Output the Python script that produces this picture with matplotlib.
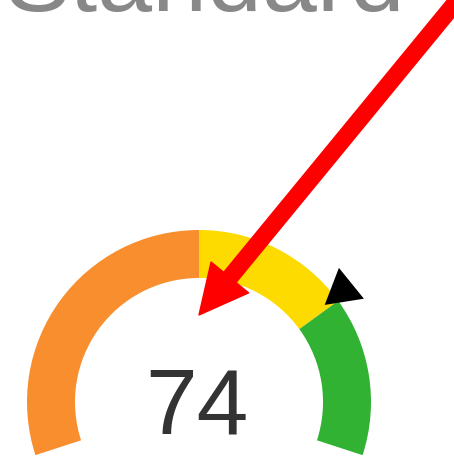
import matplotlib.pyplot as plt
import numpy as np
from matplotlib.patches import Wedge

# gauge data
title = "Standard"
value = 74
band_edges = [0, 50, 75, 100]
band_colors = ["#F98E2F", "#FDDA00", "#32B232"]

v_min, v_max = 0, 100
start_deg, span_deg = 198, 216


def to_angle(v):
    return start_deg - (v - v_min) / (v_max - v_min) * span_deg


fig = plt.figure(figsize=(4.54, 4.58), dpi=100)
ax = fig.add_axes([0, 0, 1, 1])
ax.set_xlim(0, 454)
ax.set_ylim(0, 458)
ax.set_aspect("equal")
ax.axis("off")

cx, cy = 199, 56
r_out, ring = 172, 48

for lo, hi, col in zip(band_edges[:-1], band_edges[1:], band_colors):
    ax.add_patch(Wedge((cx, cy), r_out, to_angle(hi), to_angle(lo),
                       width=ring, facecolor=col, edgecolor="none"))

# pointer just outside the ring
a = np.deg2rad(to_angle(value))
ax.plot(cx + 182 * np.cos(a), cy + 182 * np.sin(a), marker=(3, 0, 9),
        markersize=29, color="black", markeredgewidth=2,
        markeredgecolor="black", clip_on=False)

ax.text(197, 25, str(value), ha="center", va="baseline", fontsize=67,
        color="#333333", family="Liberation Sans")

# title is partly cut off at the top, as in the source
ax.text(5, 447, title, ha="left", va="baseline", fontsize=71,
        color="#888888", family="Liberation Sans")

# big red arrow
ax.annotate("", xy=(199, 143), xytext=(470, 473),
            arrowprops=dict(facecolor="red", edgecolor="red", width=11.5,
                            headwidth=35, headlength=35),
            annotation_clip=False)

fig.savefig("out.png")
